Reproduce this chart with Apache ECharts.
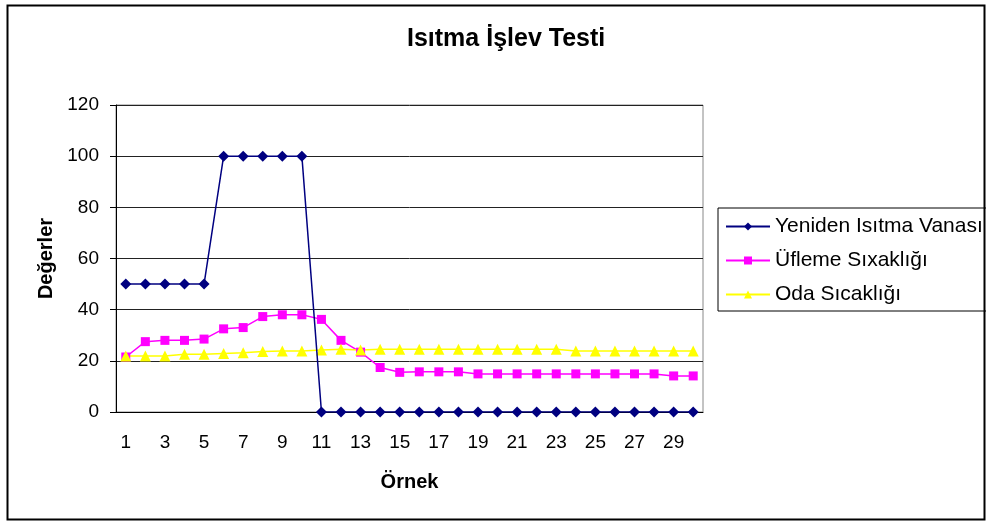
<!DOCTYPE html>
<html>
<head>
<meta charset="utf-8">
<script src="https://cdn.jsdelivr.net/npm/echarts@6/dist/echarts.min.js"></script>
<style>
html,body{margin:0;padding:0;background:#fff;}
#chart{width:986px;height:521px;}
</style>
</head>
<body>
<div id="chart"></div>
<script>
// veri
var ornek = [];
for (var i = 1; i <= 30; i++) ornek.push(String(i));

var vana = [50, 50, 50, 50, 50, 100, 100, 100, 100, 100,
	0, 0, 0, 0, 0, 0, 0, 0, 0, 0,
	0, 0, 0, 0, 0, 0, 0, 0, 0, 0];
var ufleme = [21.5, 27.5, 28, 28, 28.5, 32.5, 33, 37.3, 38, 38,
	36.2, 28, 23.4, 17.4, 15.5, 15.7, 15.7, 15.7, 14.9, 14.9,
	14.9, 14.9, 14.9, 14.9, 14.9, 14.9, 14.9, 14.9, 14.1, 14.1];
var oda = [21.9, 21.9, 21.9, 22.6, 22.6, 22.9, 23.2, 23.6, 23.8, 23.8,
	24.2, 24.5, 24.2, 24.5, 24.5, 24.5, 24.5, 24.5, 24.5, 24.5,
	24.5, 24.5, 24.5, 23.8, 23.8, 23.8, 23.8, 23.8, 23.8, 23.8];

var font = 'Liberation Sans, Arial, sans-serif';

var myChart = echarts.init(document.getElementById('chart'));
var option = {
	animation : false,
	backgroundColor : '#fff',
	title : {
		text : 'Isıtma İşlev Testi',
		left : 402,
		top : 22,
		textStyle : { fontFamily : font, fontSize : 25, fontWeight : 'bold', color : '#000' }
	},
	legend : {
		orient : 'vertical',
		left : 718,
		top : 208,
		padding : [8, 8, 6, 7],
		itemGap : 13,
		itemWidth : 44,
		itemHeight : 10,
		borderColor : '#000',
		borderWidth : 1,
		textStyle : { fontFamily : font, fontSize : 21, color : '#000' },
		data : ['Yeniden Isıtma Vanası', 'Üfleme Sıxaklığı', 'Oda Sıcaklığı']
	},
	grid : {
		left : 116,
		right : 283,
		top : 105,
		bottom : 109,
		show : true,
		borderColor : '#888',
		borderWidth : 1
	},
	xAxis : {
		type : 'category',
		data : ornek,
		boundaryGap : true,
		name : 'Örnek',
		nameLocation : 'middle',
		nameGap : 60,
		nameTextStyle : { fontFamily : font, fontSize : 20, fontWeight : 'bold', color : '#000' },
		axisLine : { lineStyle : { color : '#000' } },
		axisTick : { interval : 0, length : 6, lineStyle : { color : '#000' } },
		axisLabel : { interval : 1, fontFamily : font, fontSize : 19, color : '#000', margin : 21 },
		splitLine : { show : false }
	},
	yAxis : {
		type : 'value',
		min : 0,
		max : 120,
		interval : 20,
		name : 'Değerler',
		nameLocation : 'middle',
		nameGap : 60,
		nameTextStyle : { fontFamily : font, fontSize : 20, fontWeight : 'bold', color : '#000' },
		axisLine : { show : true, lineStyle : { color : '#000' } },
		axisTick : { show : true, length : 6, lineStyle : { color : '#000' } },
		axisLabel : { fontFamily : font, fontSize : 19, color : '#000', margin : 17 },
		splitLine : { show : true, lineStyle : { color : '#222', width : 1 } }
	},
	series : [ {
		name : 'Yeniden Isıtma Vanası',
		type : 'line',
		data : vana,
		symbol : 'diamond',
		symbolSize : 11,
		color : '#000080',
		lineStyle : { width : 1.5, color : '#000080' },
		itemStyle : { color : '#000080' },
		z : 3
	}, {
		name : 'Üfleme Sıxaklığı',
		type : 'line',
		data : ufleme,
		symbol : 'rect',
		symbolSize : 9,
		color : '#ff00ff',
		lineStyle : { width : 1.5, color : '#ff00ff' },
		itemStyle : { color : '#ff00ff' },
		z : 2
	}, {
		name : 'Oda Sıcaklığı',
		type : 'line',
		data : oda,
		symbol : 'triangle',
		symbolSize : 11,
		color : '#ffff00',
		lineStyle : { width : 1.5, color : '#ffff00' },
		itemStyle : { color : '#ffff00' },
		z : 2
	} ],
	graphic : [ {
		type : 'rect',
		left : 5,
		top : 3,
		shape : { width : 977, height : 514 },
		style : { fill : 'none', stroke : '#000', lineWidth : 2 },
		silent : true
	} ]
};
myChart.setOption(option);
</script>
</body>
</html>
